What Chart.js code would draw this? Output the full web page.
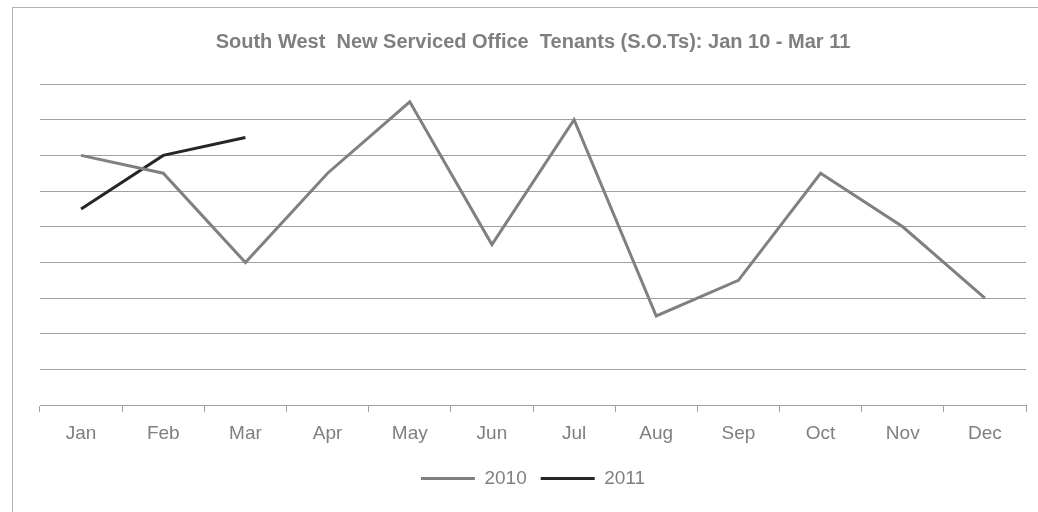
<!DOCTYPE html>
<html>
<head>
<meta charset="utf-8">
<script src="https://cdn.jsdelivr.net/npm/chart.js@4"></script>
<style>
  html, body { margin: 0; padding: 0; background: #fff; overflow: hidden; }
  #frame { position: absolute; left: 12px; top: 7px; width: 1100px; height: 600px; border: 1px solid #b3b3b3; }
  #wrap { position: absolute; left: 0; top: 0; width: 1038px; height: 512px; }
</style>
</head>
<body>
<div id="frame"></div>
<div id="wrap"><canvas id="chart"></canvas></div>
<script>
const months = ["Jan", "Feb", "Mar", "Apr", "May", "Jun", "Jul", "Aug", "Sep", "Oct", "Nov", "Dec"];
const tenants2010 = [7, 6.5, 4, 6.5, 8.5, 4.5, 8, 2.5, 3.5, 6.5, 5, 3];
const tenants2011 = [5.5, 7, 7.5];

const grey = "#7f7f7f";
const gridColor = "#a0a0a0";
const fontFamily = "Liberation Sans, Arial, sans-serif";

new Chart(document.getElementById("chart"), {
  type: "line",
  data: {
    labels: months,
    datasets: [
      {
        label: "2010",
        data: tenants2010,
        borderColor: "#808080",
        backgroundColor: "#808080",
        borderWidth: 3,
        pointRadius: 0,
        tension: 0,
      },
      {
        label: "2011",
        data: tenants2011,
        borderColor: "#262626",
        backgroundColor: "#262626",
        borderWidth: 3,
        pointRadius: 0,
        tension: 0,
      },
    ],
  },
  options: {
    responsive: true,
    maintainAspectRatio: false,
    animation: false,
    layout: { padding: { left: 40, right: 12, top: 0, bottom: 14 } },
    plugins: {
      title: {
        display: true,
        text: "South West  New Serviced Office  Tenants (S.O.Ts): Jan 10 - Mar 11",
        color: grey,
        font: { family: fontFamily, size: 20, weight: "bold" },
        padding: { top: 30, bottom: 30 },
      },
      legend: {
        position: "bottom",
        labels: {
          usePointStyle: true,
          pointStyle: "line",
          pointStyleWidth: 54,
          color: grey,
          font: { family: fontFamily, size: 19 },
          padding: 14,
        },
      },
      tooltip: { enabled: false },
    },
    scales: {
      x: {
        offset: true,
        grid: {
          offset: true,
          drawOnChartArea: false,
          drawTicks: true,
          tickLength: 7,
          color: gridColor,
        },
        border: { display: true, color: gridColor, width: 1 },
        ticks: {
          color: grey,
          font: { family: fontFamily, size: 19 },
          padding: 10,
          maxRotation: 0,
        },
      },
      y: {
        min: 0,
        max: 9,
        ticks: { display: false, stepSize: 1 },
        grid: { drawTicks: false, color: gridColor, lineWidth: 1 },
        border: { display: false },
      },
    },
  },
});
</script>
</body>
</html>
